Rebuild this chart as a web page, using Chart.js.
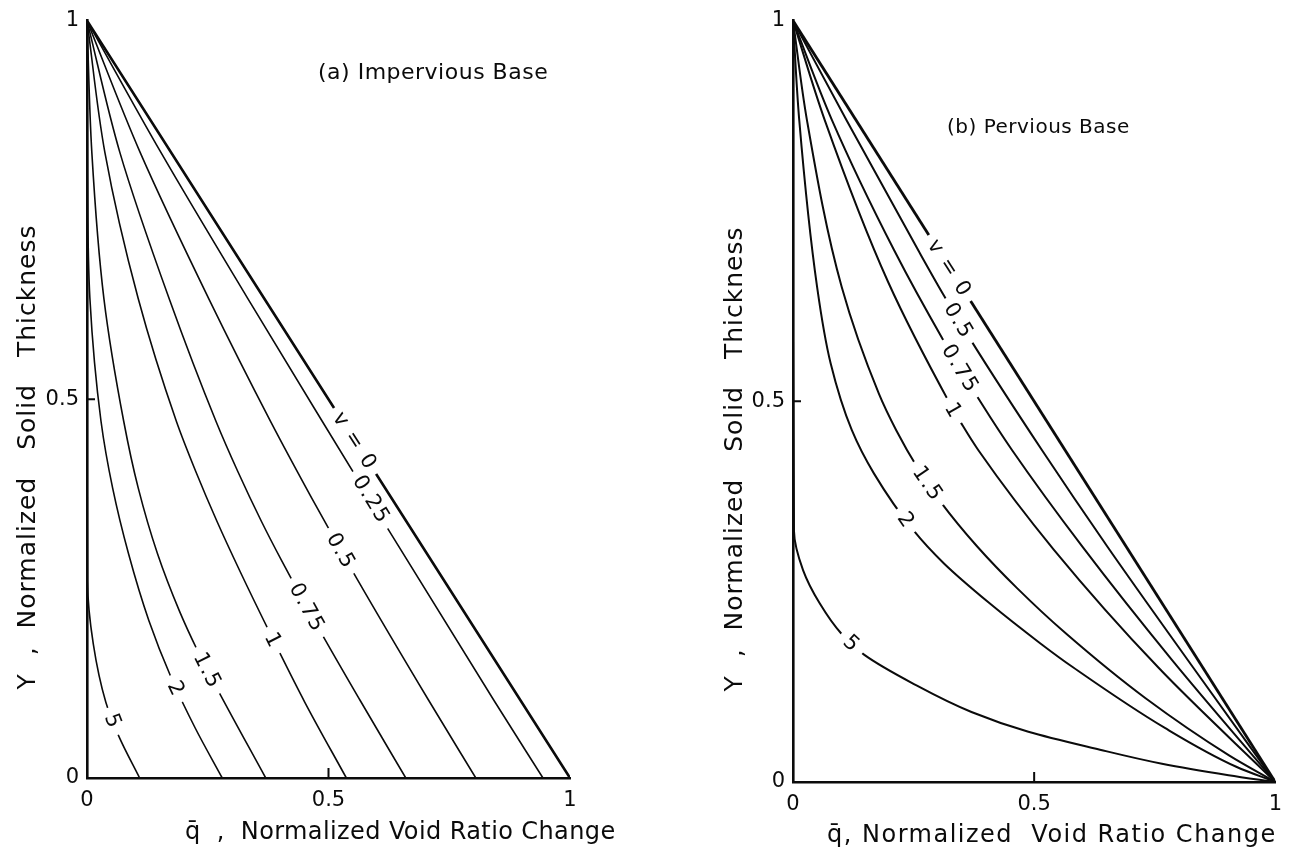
<!DOCTYPE html>
<html>
<head>
<meta charset="utf-8">
<script src="https://cdn.jsdelivr.net/npm/chart.js@4.4.1/dist/chart.umd.min.js"></script>
<style>
  html, body { margin: 0; padding: 0; background: #fff; }
  #wrap { position: relative; width: 1292px; height: 857px; }
  .panel { position: absolute; top: 0; }
</style>
</head>
<body>
<div id="wrap">
  <div class="panel" style="left:0"><canvas id="chartA" width="646" height="857"></canvas></div>
  <div class="panel" style="left:646px"><canvas id="chartB" width="646" height="857"></canvas></div>
</div>
<script>
// curve labels (parameter v)
var labelsA = ['v = 0', '0.25', '0.5', '0.75', '1', '1.5', '2', '5'];
var labelsB = ['v = 0', '0.5', '0.75', '1', '1.5', '2', '5'];
var tickValues = [0, 0.5, 1];

// (a) impervious base, points as [q, Y]
var aV0   = [[0, 1], [1, 0]];
var aV025 = [[0, 1], [0.153, 0.826], [0.333, 0.633], [0.487, 0.471], [0.623, 0.329], [0.842, 0.103], [0.944, 0]];
var aV05  = [[0, 1], [0.110, 0.826], [0.252, 0.633], [0.380, 0.471], [0.465, 0.370], [0.513, 0.315], [0.559, 0.263], [0.707, 0.103], [0.805, 0]];
var aV075 = [[0, 1], [0.068, 0.826], [0.170, 0.633], [0.267, 0.471], [0.312, 0.405], [0.361, 0.339], [0.403, 0.287], [0.482, 0.195], [0.565, 0.103], [0.660, 0]];
var aV1   = [[0, 1], [0.037, 0.826], [0.106, 0.633], [0.185, 0.471], [0.225, 0.405], [0.269, 0.339], [0.316, 0.274], [0.383, 0.186], [0.451, 0.100], [0.537, 0]];
var aV15  = [[0, 1], [0.010, 0.826], [0.035, 0.633], [0.076, 0.471], [0.106, 0.383], [0.146, 0.296], [0.191, 0.221], [0.229, 0.168], [0.266, 0.122], [0.370, 0]];
var aV2   = [[0, 1], [0.001, 0.800], [0.006, 0.633], [0.029, 0.471], [0.053, 0.383], [0.086, 0.296], [0.128, 0.208], [0.174, 0.133], [0.224, 0.066], [0.280, 0]];
var aV5   = [[0, 1], [0, 0.500], [0.001, 0.260], [0.013, 0.177], [0.039, 0.100], [0.066, 0.055], [0.109, 0]];

// (b) pervious base
var bV0   = [[0, 1], [1, 0]];
var bV05  = [[0, 1], [0.111, 0.869], [0.260, 0.698], [0.311, 0.641], [0.369, 0.580], [0.516, 0.436], [0.652, 0.309], [0.830, 0.150], [1, 0]];
var bV075 = [[0, 1], [0.081, 0.869], [0.210, 0.698], [0.312, 0.580], [0.391, 0.497], [0.454, 0.436], [0.600, 0.309], [0.786, 0.160], [1, 0]];
var bV1   = [[0, 1], [0.066, 0.869], [0.197, 0.657], [0.327, 0.495], [0.349, 0.471], [0.384, 0.436], [0.541, 0.305], [0.758, 0.150], [1, 0]];
var bV15  = [[0, 1], [0.029, 0.869], [0.101, 0.650], [0.178, 0.510], [0.214, 0.462], [0.257, 0.414], [0.306, 0.368], [0.381, 0.310], [0.464, 0.255], [0.566, 0.195], [0.731, 0.110], [0.904, 0.035], [1, 0]];
var bV2   = [[0, 1], [0.013, 0.869], [0.050, 0.650], [0.078, 0.550], [0.122, 0.462], [0.168, 0.405], [0.249, 0.331], [0.313, 0.287], [0.407, 0.235], [0.513, 0.182], [0.582, 0.150], [0.771, 0.071], [0.919, 0.020], [1, 0]];
var bV5   = [[0, 1], [0, 0.600], [0.002, 0.330], [0.021, 0.278], [0.055, 0.235], [0.100, 0.195], [0.148, 0.167], [0.247, 0.130], [0.370, 0.092], [0.488, 0.066], [0.626, 0.044], [0.765, 0.024], [0.903, 0.009], [1, 0]];

// where each curve label sits, [q, Y]
var labelAtA = [[0.555, 0.445], [0.589, 0.368], [0.526, 0.300], [0.456, 0.225], [0.386, 0.182], [0.250, 0.142], [0.185, 0.118], [0.054, 0.075]];
var labelAtB = [[0.325, 0.675], [0.344, 0.606], [0.347, 0.543], [0.333, 0.488], [0.280, 0.392], [0.235, 0.344], [0.122, 0.182]];

var ink = '#0b0b0b';
var fontFamily = '"DejaVu Sans", sans-serif';

function toXY(pts) {
    return pts.map(function (p) { return { x: p[0], y: p[1] }; });
}

function makeDatasets(curves, labels, thin, thick) {
    return curves.map(function (pts, i) {
        return {
            label: labels[i],
            data: toXY(pts),
            borderColor: ink,
            borderWidth: i === 0 ? thick : thin,
            pointRadius: 0,
            cubicInterpolationMode: 'monotone',
            fill: false
        };
    });
}

// rotated labels sitting in a gap of their curve
var curveLabels = {
    id: 'curveLabels',
    afterDatasetsDraw: function (chart, args, opts) {
        var ctx = chart.ctx;
        var sx = chart.scales.x, sy = chart.scales.y;
        ctx.save();
        ctx.font = opts.font;
        ctx.letterSpacing = opts.spacing;
        ctx.textAlign = 'center';
        ctx.textBaseline = 'middle';
        chart.data.datasets.forEach(function (ds, i) {
            var at = opts.at[i];
            if (!at) return;
            var pts = ds.data, k = 0;
            for (var j = 0; j < pts.length - 1; j++) {
                if (pts[j].y >= at[1] && pts[j + 1].y <= at[1]) { k = j; break; }
            }
            var dx = sx.getPixelForValue(pts[k + 1].x) - sx.getPixelForValue(pts[k].x);
            var dy = sy.getPixelForValue(pts[k + 1].y) - sy.getPixelForValue(pts[k].y);
            var ang = Math.atan2(dy, dx);
            var w = ctx.measureText(ds.label).width;
            ctx.save();
            ctx.translate(sx.getPixelForValue(at[0]), sy.getPixelForValue(at[1]));
            ctx.rotate(ang);
            ctx.fillStyle = '#fff';
            ctx.fillRect(-w / 2 - 7, -7, w + 14, 14);
            ctx.fillStyle = ink;
            ctx.fillText(ds.label, 0, 1);
            ctx.restore();
        });
        ctx.restore();
    }
};

// panel title, axis titles and the inward ticks at 0.5
var panelText = {
    id: 'panelText',
    afterDraw: function (chart, args, opts) {
        var ctx = chart.ctx, area = chart.chartArea;
        var sx = chart.scales.x, sy = chart.scales.y;
        ctx.save();
        ctx.strokeStyle = ink;
        ctx.fillStyle = ink;
        ctx.lineWidth = 2;
        ctx.beginPath();
        var tx = sx.getPixelForValue(0.5), ty = sy.getPixelForValue(0.5);
        ctx.moveTo(tx, area.bottom);
        ctx.lineTo(tx, area.bottom - 10);
        ctx.moveTo(area.left, ty);
        ctx.lineTo(area.left + 8, ty);
        ctx.stroke();

        ctx.textBaseline = 'middle';
        ctx.textAlign = 'left';
        ctx.font = opts.titleFont;
        ctx.letterSpacing = opts.titleSpacing;
        ctx.fillText(opts.title, opts.titleAt[0], opts.titleAt[1]);

        ctx.font = opts.xFont;
        ctx.letterSpacing = opts.xSpacing;
        ctx.fillText(opts.xTitle, opts.xTitleAt[0], opts.xTitleAt[1]);

        ctx.save();
        ctx.font = opts.yFont;
        ctx.letterSpacing = opts.ySpacing;
        ctx.translate(opts.yTitleAt[0], opts.yTitleAt[1]);
        ctx.rotate(-Math.PI / 2);
        ctx.textAlign = 'center';
        ctx.fillText(opts.yTitle, 0, 0);
        ctx.restore();
        ctx.restore();
    }
};

function tickText(value) {
    return String(value);
}

function makeChart(id, datasets, yWidth, xHeight, padding, labelAt, text) {
    return new Chart(document.getElementById(id), {
        type: 'line',
        data: { datasets: datasets },
        options: {
            responsive: false,
            animation: false,
            indexAxis: 'y',
            layout: { padding: padding },
            plugins: {
                legend: { display: false },
                tooltip: { enabled: false },
                curveLabels: { at: labelAt, font: '21px ' + fontFamily, spacing: '1.5px' },
                panelText: text
            },
            scales: {
                x: {
                    type: 'linear', min: 0, max: 1,
                    afterBuildTicks: function (s) { s.ticks = tickValues.map(function (v) { return { value: v }; }); },
                    ticks: { padding: 10, color: ink, maxRotation: 0, callback: tickText, font: { size: 21, family: fontFamily } },
                    grid: { display: false, drawTicks: false },
                    border: { display: true, width: 2.6, color: ink },
                    afterFit: function (s) { s.height = xHeight; }
                },
                y: {
                    type: 'linear', min: 0, max: 1,
                    afterBuildTicks: function (s) { s.ticks = tickValues.map(function (v) { return { value: v }; }); },
                    ticks: { padding: 8, color: ink, callback: tickText, font: { size: 21, family: fontFamily } },
                    grid: { display: false, drawTicks: false },
                    border: { display: true, width: 2.6, color: ink },
                    afterFit: function (s) { s.width = yWidth; }
                }
            }
        },
        plugins: [curveLabels, panelText]
    });
}

makeChart('chartA',
    makeDatasets([aV0, aV025, aV05, aV075, aV1, aV15, aV2, aV5], labelsA, 1.6, 2.6),
    87, 79, { top: 18, right: 76, left: 0, bottom: 0 }, labelAtA,
    {
        title: '(a) Impervious Base', titleAt: [318, 73], titleFont: '22px ' + fontFamily, titleSpacing: '0.5px',
        xTitle: 'q\u0304  ,  Normalized Void Ratio Change', xTitleAt: [185, 833],
        xFont: '24px ' + fontFamily, xSpacing: '0.4px',
        yTitle: 'Y  ,  Normalized   Solid   Thickness', yTitleAt: [28, 457],
        yFont: '25px ' + fontFamily, ySpacing: '1px'
    });

makeChart('chartB',
    makeDatasets([bV0, bV05, bV075, bV1, bV15, bV2, bV5], labelsB, 2, 2.8),
    147, 75, { top: 20, right: 12, left: 0, bottom: 0 }, labelAtB,
    {
        title: '(b) Pervious Base', titleAt: [301, 128], titleFont: '20px ' + fontFamily, titleSpacing: '0.5px',
        xTitle: 'q\u0304, Normalized  Void Ratio Change', xTitleAt: [181, 836],
        xFont: '24px ' + fontFamily, xSpacing: '1.5px',
        yTitle: 'Y  ,  Normalized   Solid   Thickness', yTitleAt: [89, 459],
        yFont: '25px ' + fontFamily, ySpacing: '1px'
    });
</script>
</body>
</html>
